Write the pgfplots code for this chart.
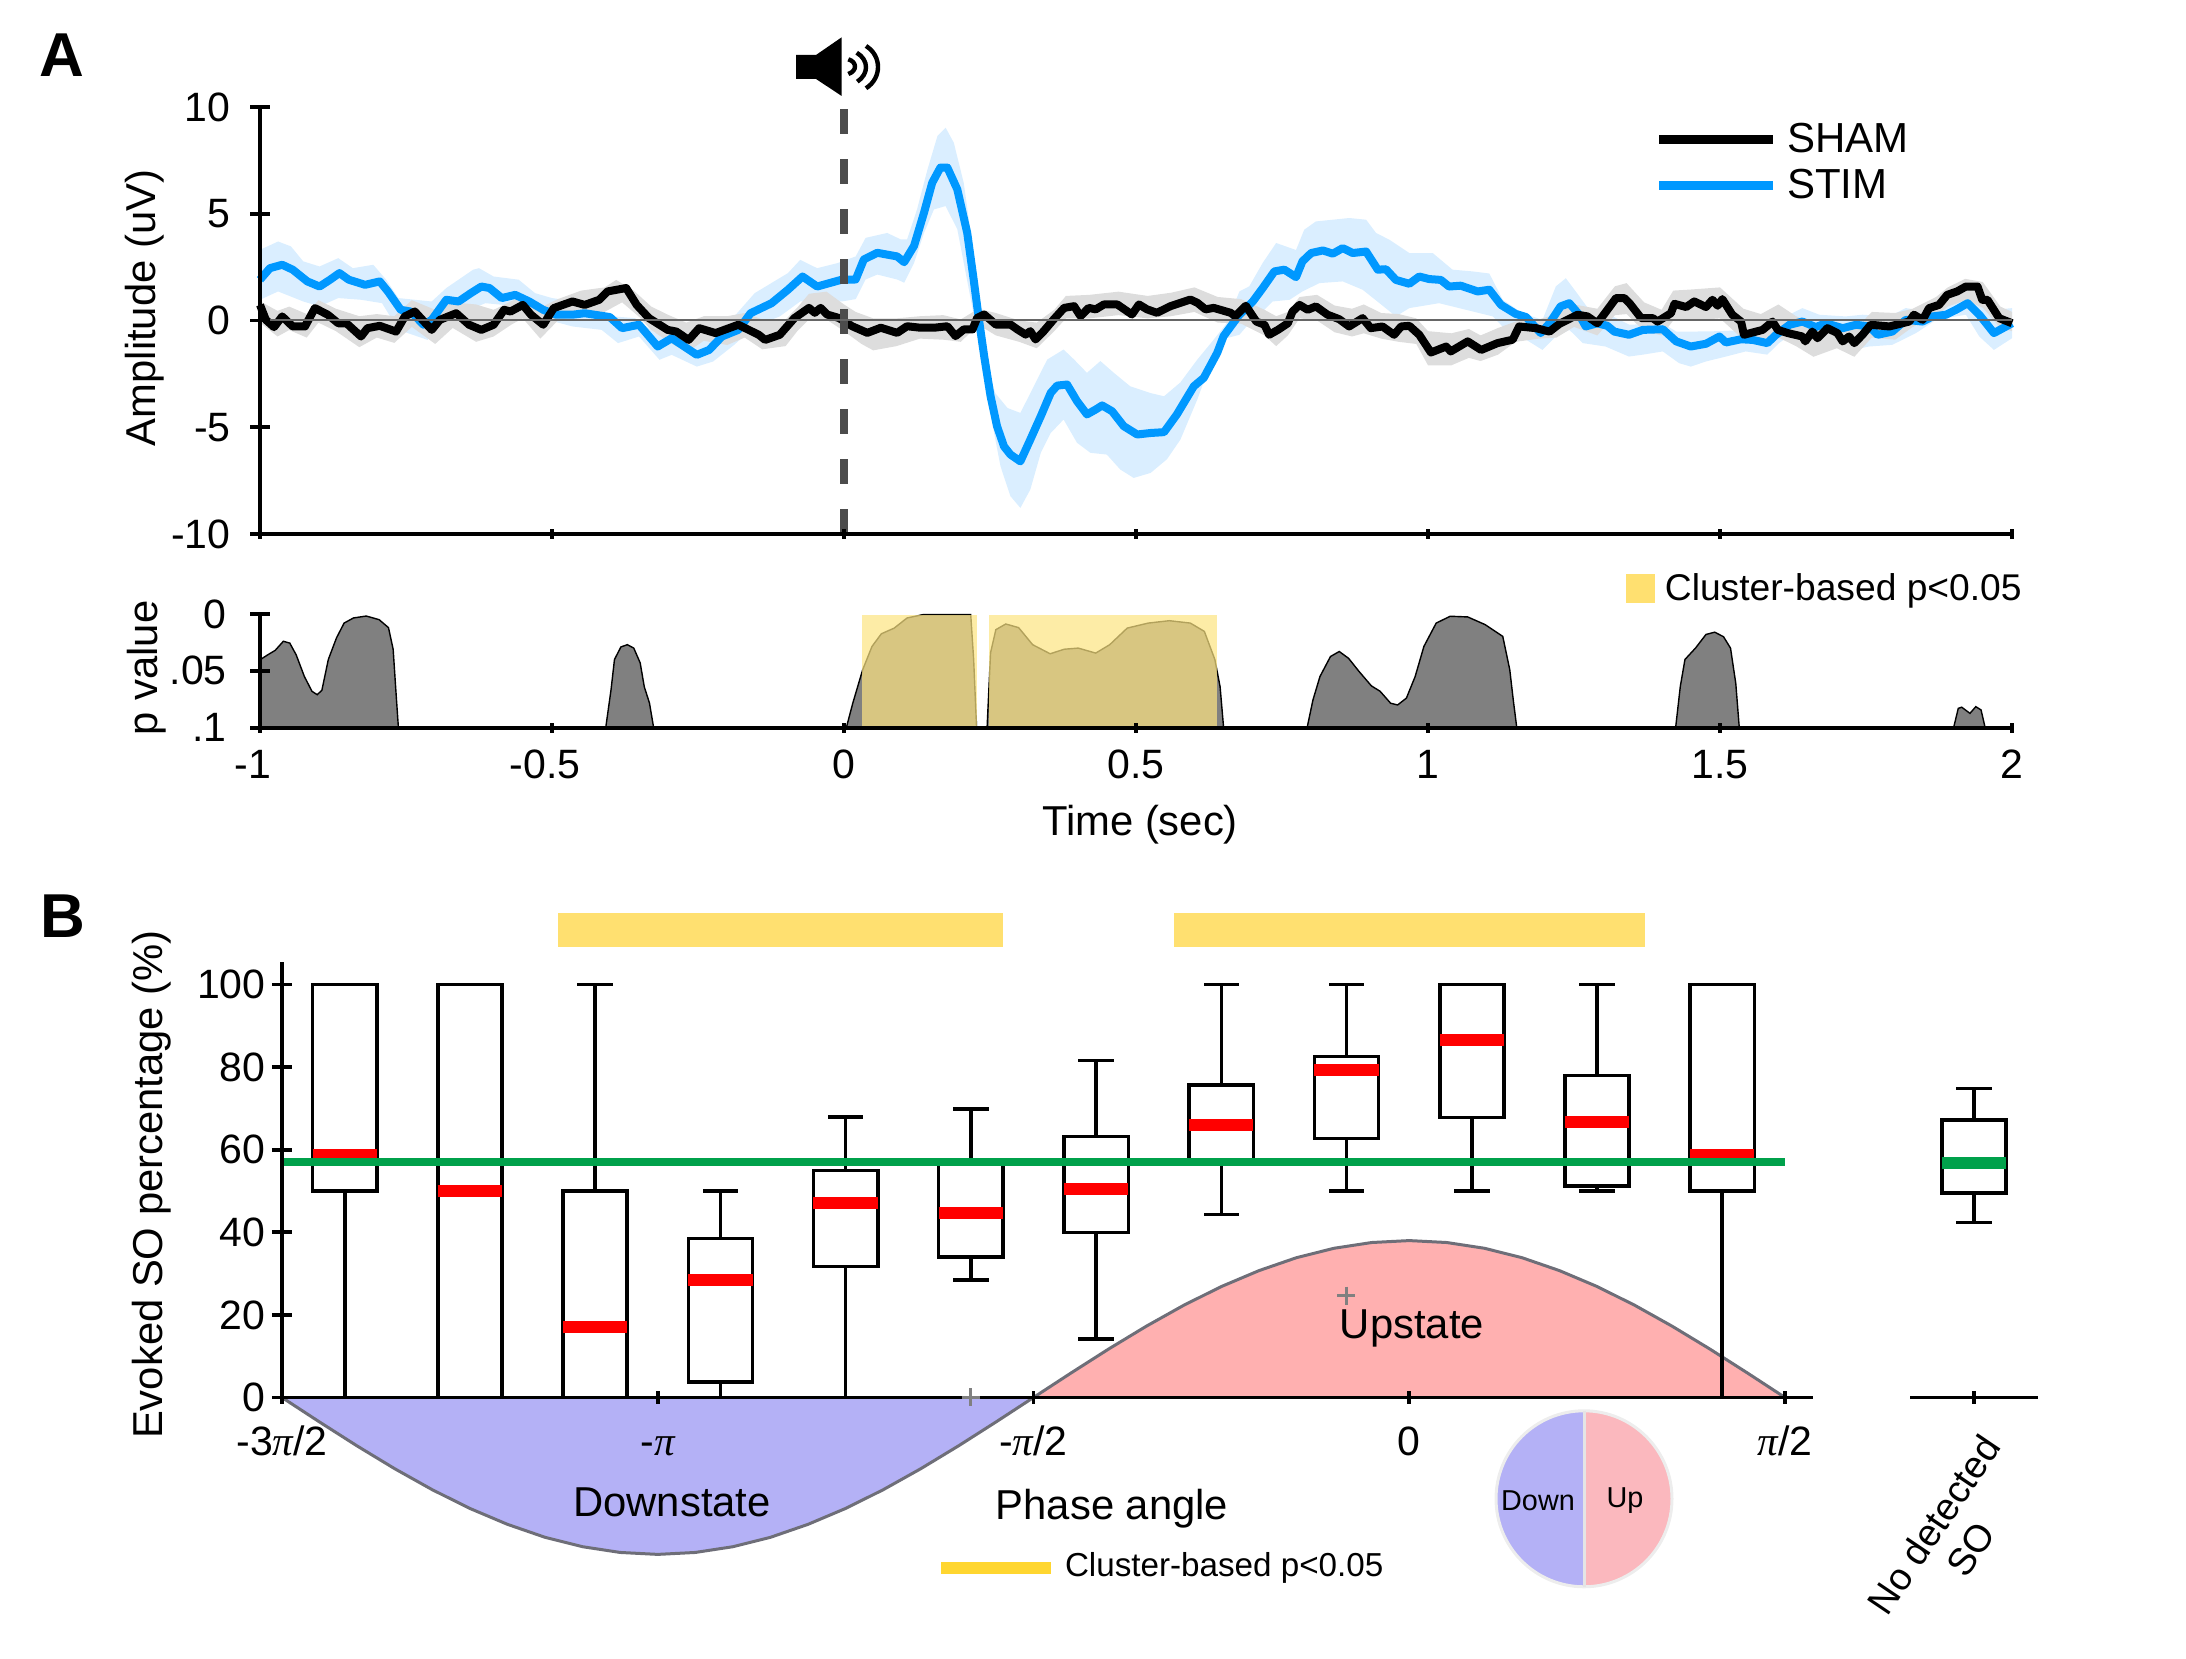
\documentclass[border=0pt]{standalone}
\usepackage{fontspec}
\setmainfont{Liberation Sans}
\newfontfamily\pif{Liberation Serif}
\usepackage{pgfplots}
\pgfplotsset{compat=1.18}
\usepgfplotslibrary{fillbetween}
\definecolor{stimblue}{HTML}{0098FF}
\definecolor{stimband}{HTML}{DAEEFF}
\definecolor{shamband}{HTML}{DDDDDD}
\definecolor{yellowA}{HTML}{FCE482}
\definecolor{yellowB}{HTML}{FFE070}
\definecolor{yellowC}{HTML}{FFD630}
\definecolor{downc}{HTML}{B4B1F6}
\definecolor{upc}{HTML}{FFB0B0}
\definecolor{upp}{HTML}{FBB8BE}
\definecolor{sog}{HTML}{00A14B}
\definecolor{sinel}{HTML}{6E6E78}
\newcommand\PI{{\pif\itshape π}}
\newcommand\tf{\fontsize{20.5}{24}\selectfont}
\newcommand\lf{\fontsize{20.9}{24}\selectfont}
\pgfplotsset{
  base/.style={scale only axis,clip=false,axis on top,tick align=outside,
    every tick/.style={black,line width=1.9pt},
    major tick length=10pt,
    tick label style={font=\tf,inner sep=0pt},
    xtick pos=lower,ytick pos=left},
  noarr/.style={axis line style={-,line width=1.9pt,black}},
  bxl/.style={black,line width=1.8pt,forget plot,line cap=rect,line join=miter},
}
% box: {position}{lower whisker}{Q1}{median}{Q3}{upper whisker}
\newcommand\bx[6]{\bxc{red}{#1}{#2}{#3}{#4}{#5}{#6}}
\newcommand\bxc[7]{%
  \pgfmathsetmacro\xa{#2-.0855}\pgfmathsetmacro\xb{#2+.0855}%
  \pgfmathsetmacro\ca{#2-.0425}\pgfmathsetmacro\cb{#2+.0425}%
  \addplot[bxl] coordinates {(#2,#3)(#2,#4)};
  \addplot[bxl] coordinates {(#2,#6)(#2,#7)};
  \addplot[bxl] coordinates {(\ca,#3)(\cb,#3)};
  \addplot[bxl] coordinates {(\ca,#7)(\cb,#7)};
  \addplot[bxl] coordinates {(\xa,#4)(\xa,#6)(\xb,#6)(\xb,#4)(\xa,#4)};
  \addplot[#1,line width=6pt,forget plot] coordinates {(\xa,#5)(\xb,#5)};
}
\begin{document}
\begin{tikzpicture}
% ---- Panel A
\begin{axis}[base,at={(130pt,562.5pt)},anchor=south west,width=876pt,height=213.5pt,
  xmin=-1,xmax=2,ymin=-10,ymax=10,axis x line=bottom,axis y line=left,noarr,
  xtick={-1,-0.5,0,0.5,1,1.5,2},xticklabels={},
  x tick style={/pgfplots/major tick length=5pt},
  ytick={-10,-5,0,5,10},yticklabels={-10,-5,0,5,10},yticklabel shift=9.5pt,
  reverse legend,legend cell align=left,
  legend style={draw=none,fill=none,at={(0.7958,0.972)},anchor=north west,font=\fontsize{21}{24}\selectfont,row sep=3pt,inner sep=0pt},
  legend image code/.code={\draw[#1,line width=4.5pt] (0,0) -- (57pt,0);\path[draw=none] (0,0) -- (62pt,0);},
]
\addplot[name path=sh,draw=none,forget plot] coordinates {(-1,3.31)(-.969,3.7)(-.947,3.47)(-.926,2.77)(-.898,2.53)(-.866,2.92)(-.841,2.45)(-.806,2.61)(-.784,1.91)(-.763,1.05)(-.735,.97)(-.706,.89)(-.681,1.52)(-.635,2.38)(-.625,2.45)(-.6,2.06)(-.557,1.91)(-.529,1.28)(-.5,1.05)(-.458,.89)(-.429,.5)(-.394,.19)(-.358,.11)(-.323,-.59)(-.295,-.44)(-.252,-1.06)(-.224,-.75)(-.188,.19)(-.153,1.28)(-.096,2.22)(-.075,2.84)(-.046,2.45)(-.011,2.69)(.02,3.0)(.037,3.87)(.074,4.1)(.097,3.8)(.108,3.8)(.125,5.2)(.143,7.08)(.16,8.64)(.174,9.03)(.188,8.33)(.205,6.45)(.217,4.1)(.228,1)(.245,-2.1)(.259,-3.4)(.28,-4.1)(.302,-4.33)(.325,-3.08)(.348,-1.83)(.376,-1.36)(.394,-1.83)(.416,-2.45)(.439,-1.9)(.462,-2.45)(.49,-3.08)(.525,-3.4)(.548,-3.55)(.576,-2.9)(.605,-1.83)(.633,-.9)(.656,-.1)(.677,1.36)(.694,1.6)(.717,2.7)(.74,3.63)(.774,3.3)(.788,4.25)(.808,4.64)(.837,4.72)(.865,4.8)(.894,4.72)(.911,4.1)(.934,3.78)(.968,3.16)(1.008,3.16)(1.042,2.38)(1.076,2.3)(1.105,2.2)(1.128,.97)(1.162,.34)(1.196,.03)(1.219,1.6)(1.236,1.98)(1.253,1.36)(1.276,.5)(1.305,.34)(1.345,-.2)(1.402,-.13)(1.425,-.52)(1.453,-.52)(1.5,-.5)(1.54,-.45)(1.58,-.55)(1.613,.19)(1.641,.58)(1.67,.27)(1.715,.19)(1.744,.27)(1.79,.19)(1.818,.58)(1.858,.42)(1.892,.81)(1.921,1.2)(1.949,1.05)(1.972,.5)(2,.58)};
\addplot[name path=sl,draw=none,forget plot] coordinates {(-1,.97)(-.969,1.36)(-.926,.89)(-.898,.66)(-.866,1.05)(-.827,.97)(-.791,.81)(-.763,-.44)(-.713,-.91)(-.678,.19)(-.635,.58)(-.614,.81)(-.557,.66)(-.507,.03)(-.465,-.28)(-.415,-.44)(-.387,-1.06)(-.351,-.75)(-.316,-1.84)(-.295,-1.61)(-.252,-2.16)(-.224,-1.92)(-.188,-1.14)(-.153,-.28)(-.11,.19)(-.075,.89)(-.032,.89)(-.004,.89)(.02,1)(.037,1.92)(.057,2.15)(.091,1.92)(.103,1.77)(.12,2.7)(.137,4.1)(.154,5.2)(.174,5.36)(.194,4.27)(.217,1)(.228,-.58)(.245,-3.4)(.257,-5.27)(.268,-6.83)(.285,-8.23)(.302,-8.78)(.319,-7.92)(.337,-6.2)(.354,-5.27)(.376,-4.64)(.399,-5.73)(.422,-6.2)(.45,-6.28)(.473,-6.98)(.496,-7.375)(.525,-7.14)(.553,-6.5)(.576,-5.58)(.605,-3.7)(.628,-1.98)(.645,-.9)(.677,-.67)(.694,-.13)(.717,.42)(.734,.89)(.763,.97)(.785,1.36)(.814,1.75)(.854,1.83)(.888,1.44)(.917,.81)(.945,.19)(.968,.58)(1.019,.81)(1.065,.5)(1.111,.19)(1.133,-.44)(1.168,-.9)(1.196,-1.38)(1.219,-.75)(1.242,-.44)(1.265,-1.06)(1.304,-1.22)(1.344,-1.69)(1.368,-1.6)(1.402,-1.45)(1.43,-2.0)(1.45,-2.16)(1.476,-1.92)(1.51,-1.69)(1.544,-1.45)(1.581,-1.6)(1.601,-1.06)(1.63,-.5)(1.664,-.5)(1.71,-1.3)(1.727,-1.38)(1.755,-1.22)(1.795,-1.14)(1.835,-.6)(1.87,.03)(1.921,.27)(1.944,-.75)(1.969,-1.38)(2,-.83)};
\addplot[stimband,forget plot] fill between[of=sh and sl];
\addplot[name path=gh,draw=none,forget plot] coordinates {(-1,.9)(-.97,.45)(-.95,.65)(-.92,.3)(-.9,.95)(-.87,.55)(-.83,.2)(-.8,.3)(-.77,.2)(-.74,.95)(-.7,.5)(-.67,.85)(-.63,.75)(-.6,.5)(-.57,.9)(-.55,1.15)(-.52,.6)(-.49,1.0)(-.45,1.4)(-.41,1.55)(-.39,1.9)(-.36,1.4)(-.33,.65)(-.3,.25)(-.27,-.1)(-.24,.2)(-.2,.2)(-.17,.35)(-.14,.05)(-.1,.05)(-.08,.6)(-.06,1.25)(-.03,1.35)(0,.75)(.02,.4)(.05,.1)(.09,.1)(.13,.2)(.17,.25)(.2,.05)(.23,.55)(.26,.35)(.3,0)(.33,-.1)(.36,.5)(.38,1.15)(.42,1.2)(.47,1.35)(.52,1.15)(.56,1.3)(.6,1.55)(.64,1.1)(.68,1.0)(.72,.5)(.74,.2)(.76,.4)(.78,1.1)(.81,1.2)(.84,.7)(.87,.55)(.89,.75)(.92,.35)(.95,.3)(.98,.1)(1.0,-.5)(1.04,-.6)(1.07,-.4)(1.09,-.7)(1.12,-.35)(1.15,-.05)(1.19,.05)(1.22,.3)(1.25,.75)(1.29,.55)(1.32,1.6)(1.34,1.75)(1.37,.85)(1.4,.5)(1.42,1.4)(1.45,1.45)(1.5,1.55)(1.54,.55)(1.57,.3)(1.6,.75)(1.63,.2)(1.66,-.2)(1.7,-.05)(1.73,-.45)(1.76,.4)(1.8,.35)(1.83,.55)(1.87,1.1)(1.89,1.55)(1.92,1.95)(1.95,1.8)(1.98,.65)(2,.4)};
\addplot[name path=gl,draw=none,forget plot] coordinates {(-1,-.1)(-.97,-.75)(-.95,-.45)(-.92,-.8)(-.9,-.1)(-.87,-.5)(-.83,-1.25)(-.8,-.8)(-.77,-1.05)(-.74,-.3)(-.7,-1.1)(-.67,-.35)(-.63,-1.0)(-.6,-.75)(-.57,-.2)(-.55,.1)(-.52,-.85)(-.49,0)(-.45,.3)(-.41,.4)(-.38,.85)(-.35,.15)(-.33,-.45)(-.3,-1.0)(-.27,-1.5)(-.24,-.95)(-.2,-1.15)(-.17,-.8)(-.14,-1.35)(-.1,-1.2)(-.08,-.5)(-.06,.05)(-.03,.05)(0,-.5)(.03,-1.1)(.05,-1.4)(.09,-1.2)(.13,-.85)(.17,-.9)(.2,-1.0)(.23,-.2)(.26,-.7)(.3,-1.0)(.33,-1.3)(.36,-.5)(.38,.1)(.42,.1)(.47,.25)(.52,.1)(.56,.2)(.6,.4)(.64,-.1)(.68,-.15)(.72,-.7)(.74,-1.2)(.76,-.7)(.78,.1)(.81,0)(.84,-.55)(.87,-.75)(.89,-.6)(.92,-.85)(.95,-1.0)(.98,-1.1)(1.0,-2.1)(1.04,-2.1)(1.07,-1.75)(1.09,-1.9)(1.12,-1.6)(1.15,-1.0)(1.19,-.85)(1.22,-.8)(1.25,-.3)(1.29,-.7)(1.32,.25)(1.34,.3)(1.37,-.5)(1.4,-.7)(1.42,0)(1.45,0)(1.5,.1)(1.54,-.9)(1.57,-1.2)(1.6,-.8)(1.63,-1.2)(1.66,-1.7)(1.7,-1.3)(1.73,-1.7)(1.76,-.8)(1.8,-.9)(1.83,-.3)(1.87,.2)(1.89,.65)(1.92,.95)(1.95,.6)(1.98,-.35)(2,-.5)};
\addplot[shamband,forget plot] fill between[of=gh and gl];
\addplot[stimblue,line width=4pt,line join=round] coordinates {(-1,1.91)(-.983,2.45)(-.962,2.61)(-.944,2.38)(-.919,1.83)(-.898,1.59)(-.88,1.91)(-.864,2.22)(-.848,1.91)(-.82,1.67)(-.795,1.83)(-.781,1.36)(-.759,.5)(-.742,.42)(-.72,-.2)(-.706,.03)(-.681,.97)(-.66,.89)(-.639,1.28)(-.621,1.59)(-.607,1.52)(-.586,1.05)(-.563,1.2)(-.539,.89)(-.515,.5)(-.493,.27)(-.465,.27)(-.444,.34)(-.401,.16)(-.38,-.36)(-.351,-.2)(-.319,-1.22)(-.295,-.83)(-.252,-1.61)(-.231,-1.38)(-.209,-.75)(-.181,-.44)(-.16,.34)(-.124,.81)(-.096,1.44)(-.071,2.06)(-.046,1.59)(-.025,1.75)(-.004,1.91)(.02,1.92)(.034,2.86)(.057,3.17)(.091,3.0)(.103,2.73)(.12,3.5)(.137,5.05)(.151,6.45)(.165,7.16)(.177,7.16)(.194,6.14)(.211,4.1)(.222,1.92)(.231,.05)(.24,-1.67)(.251,-3.55)(.262,-4.95)(.274,-5.9)(.285,-6.28)(.302,-6.6)(.319,-5.58)(.337,-4.48)(.354,-3.39)(.365,-3.05)(.382,-3.0)(.399,-3.78)(.416,-4.4)(.431,-4.17)(.442,-3.98)(.459,-4.25)(.479,-4.95)(.502,-5.34)(.525,-5.27)(.548,-5.23)(.57,-4.4)(.599,-3.08)(.616,-2.69)(.639,-1.52)(.65,-.73)(.677,.27)(.7,.89)(.717,1.52)(.737,2.3)(.754,2.38)(.774,2.03)(.785,2.77)(.8,3.16)(.82,3.28)(.837,3.13)(.854,3.39)(.871,3.16)(.894,3.23)(.914,2.38)(.928,2.4)(.945,1.9)(.968,1.72)(.985,2.06)(1.002,1.94)(1.022,1.9)(1.036,1.59)(1.056,1.63)(1.085,1.36)(1.105,1.44)(1.125,.73)(1.15,.31)(1.168,.16)(1.193,-.59)(1.208,-.13)(1.227,.66)(1.242,.81)(1.259,.27)(1.27,-.28)(1.29,-.13)(1.307,-.25)(1.319,-.52)(1.344,-.67)(1.368,-.44)(1.402,-.41)(1.425,-.98)(1.45,-1.22)(1.476,-1.09)(1.499,-.75)(1.51,-1.03)(1.536,-.88)(1.556,-.91)(1.581,-1.06)(1.596,-.67)(1.619,-.2)(1.641,-.05)(1.664,-.31)(1.681,-.13)(1.71,-.36)(1.733,-.2)(1.755,-.28)(1.77,-.67)(1.795,-.52)(1.818,.03)(1.847,-.05)(1.864,.19)(1.887,.27)(1.904,.5)(1.924,.81)(1.944,.27)(1.969,-.59)(2,-.13)};
\addlegendentry{STIM}
\addplot[black,line width=4pt,line join=round] coordinates {(-1,.73)(-.99,.03)(-.976,-.31)(-.962,.19)(-.944,-.28)(-.923,-.28)(-.906,.58)(-.884,.27)(-.866,-.13)(-.852,-.13)(-.827,-.75)(-.816,-.36)(-.795,-.25)(-.767,-.52)(-.752,.19)(-.735,.42)(-.706,-.44)(-.692,.03)(-.664,.34)(-.642,-.2)(-.621,-.44)(-.6,-.2)(-.582,.5)(-.571,.42)(-.55,.73)(-.536,.27)(-.515,-.2)(-.497,.58)(-.465,.89)(-.444,.73)(-.419,.97)(-.405,1.36)(-.373,1.52)(-.355,.73)(-.334,.11)(-.302,-.44)(-.287,-.52)(-.266,-.91)(-.248,-.36)(-.22,-.59)(-.181,-.2)(-.146,-.67)(-.135,-.91)(-.11,-.67)(-.085,.11)(-.06,.59)(-.05,.36)(-.04,.59)(-.029,.28)(-.009,.12)(.014,-.27)(.04,-.58)(.063,-.34)(.091,-.58)(.108,-.27)(.131,-.34)(.154,-.34)(.177,-.27)(.191,-.73)(.205,-.42)(.22,-.42)(.228,.12)(.24,.28)(.26,-.19)(.285,-.19)(.297,-.42)(.311,-.66)(.319,-.5)(.328,-.89)(.342,-.5)(.359,.05)(.377,.59)(.394,.67)(.405,.2)(.419,.59)(.431,.52)(.445,.75)(.468,.75)(.493,.28)(.505,.75)(.519,.52)(.536,.36)(.559,.67)(.593,.98)(.605,.83)(.619,.52)(.633,.59)(.662,.36)(.67,.2)(.688,.69)(.706,-.05)(.72,-.2)(.728,-.67)(.743,-.44)(.76,-.13)(.768,.42)(.78,.73)(.794,.5)(.808,.66)(.828,.27)(.848,.06)(.865,-.28)(.888,.11)(.902,-.36)(.922,-.28)(.942,-.67)(.954,-.28)(.968,-.25)(.985,-.67)(1.005,-1.5)(1.031,-1.22)(1.039,-1.45)(1.068,-.98)(1.091,-1.38)(1.119,-1.06)(1.145,-.9)(1.156,-.28)(1.185,-.36)(1.208,-.52)(1.225,-.16)(1.256,.27)(1.273,.19)(1.29,-.13)(1.305,.42)(1.322,1.05)(1.336,1.05)(1.345,.81)(1.365,.11)(1.385,.11)(1.393,-.05)(1.416,.34)(1.422,.78)(1.442,.63)(1.456,.89)(1.476,.63)(1.487,.97)(1.496,.69)(1.504,1.0)(1.521,.27)(1.536,-.05)(1.541,-.67)(1.573,-.44)(1.59,-.05)(1.599,-.44)(1.616,-.59)(1.641,-.75)(1.646,-.98)(1.658,-.52)(1.667,-.83)(1.684,-.36)(1.701,-.59)(1.71,-.98)(1.721,-.75)(1.73,-1.06)(1.744,-.67)(1.758,-.2)(1.79,-.28)(1.824,-.05)(1.832,.27)(1.847,.03)(1.858,.58)(1.875,.73)(1.889,1.2)(1.906,1.36)(1.921,1.59)(1.941,1.59)(1.949,.97)(1.958,.97)(1.978,.11)(2,-.13)};
\addlegendentry{SHAM}
\addplot[forget plot,color=black!70,line width=4.1pt,dash pattern=on 12.5pt off 12.5pt] coordinates {(0,9.9)(0,-10)};
\addplot[forget plot,color=black!60,line width=1pt] coordinates {(-1,0)(2,0)};
\end{axis}
% ---- p value
\begin{axis}[base,at={(130pt,465.65pt)},anchor=south west,width=876pt,height=56.85pt,
  xmin=-1,xmax=2,ymin=0,ymax=.1,y dir=reverse,axis x line=bottom,axis y line=left,noarr,
  xtick={-1,-0.5,0,0.5,1,1.5,2},
  xticklabels={\llap{-}1,\llap{-}0.5,\raisebox{2.5pt}{0},0.5,1,1.5,\raisebox{2.5pt}{2}},
  x tick style={/pgfplots/major tick length=5pt},xticklabel shift=6pt,
  ytick={0,.05,.1},yticklabels={0,.05,.1},yticklabel shift=11.5pt,
]
\addplot[fill=black!50,draw=black,line width=.7pt] coordinates {(-1,.1)(-1,.0403)(-.987,.036)(-.974,.032)(-.96,.024)(-.949,.0256)(-.938,.036)(-.924,.055)(-.911,.068)(-.902,.071)(-.894,.067)(-.883,.04)(-.869,.021)(-.856,.008)(-.84,.0035)(-.818,.0018)(-.796,.005)(-.78,.012)(-.772,.031)(-.767,.07)(-.763,.1)};
\addplot[fill=black!50,draw=black,line width=.7pt] coordinates {(-.408,.1)(-.399,.067)(-.393,.04)(-.382,.029)(-.371,.027)(-.36,.03)(-.349,.043)(-.342,.064)(-.333,.0785)(-.326,.1)};
\addplot[fill=black!50,draw=black,line width=.7pt] coordinates {(.004,.1)(.015,.0785)(.032,.049)(.048,.0285)(.064,.0174)(.086,.0124)(.108,.0035)(.135,.0006)(.217,.0006)(.222,.04)(.227,.1)};
\addplot[fill=black!50,draw=black,line width=.7pt] coordinates {(.245,.1)(.251,.034)(.26,.0138)(.277,.0088)(.299,.012)(.323,.027)(.353,.035)(.377,.031)(.401,.03)(.431,.0344)(.455,.027)(.485,.0124)(.521,.008)(.557,.0059)(.593,.008)(.617,.0153)(.635,.04)(.644,.064)(.65,.1)};
\addplot[fill=black!50,draw=black,line width=.7pt] coordinates {(.793,.1)(.803,.0756)(.815,.055)(.833,.0374)(.848,.033)(.864,.039)(.882,.0506)(.903,.0632)(.918,.068)(.936,.0785)(.948,.08)(.963,.074)(.978,.055)(.993,.0285)(1.014,.008)(1.038,.002)(1.068,.0026)(1.098,.0094)(1.128,.0197)(1.14,.049)(1.146,.0756)(1.152,.1)};
\addplot[fill=black!50,draw=black,line width=.7pt] coordinates {(1.424,.1)(1.432,.0638)(1.44,.04)(1.458,.03)(1.476,.018)(1.491,.016)(1.506,.02)(1.518,.03)(1.527,.061)(1.533,.1)};
\addplot[fill=black!50,draw=black,line width=.7pt] coordinates {(1.9,.1)(1.908,.083)(1.914,.082)(1.928,.0874)(1.938,.0815)(1.947,.0844)(1.954,.1)};
\addplot[fill=yellowA,draw=none,opacity=.71] coordinates {(.0316,.1)(.0316,.0006)(.227,.0006)(.227,.1)};
\addplot[fill=yellowA,draw=none,opacity=.71] coordinates {(.2484,.1)(.2484,.0006)(.638,.0006)(.638,.1)};
\end{axis}
% ---- Panel B
\begin{axis}[base,at={(141pt,130.75pt)},anchor=south west,width=765.3pt,height=217.5pt,
  xmin=-3,xmax=1.0735,ymin=0,ymax=105.35,axis x line=bottom,axis y line=left,noarr,
  xtick={-3,-2,-1,0,1},xticklabels={-3\PI/2,\vphantom{/}-\PI,-\PI/2,\vphantom{/}0,\PI/2},
  x tick style={/pgfplots/major tick length=6.5pt},xticklabel shift=9pt,
  ytick={0,20,40,60,80,100},yticklabels={0,20,40,60,80,100},yticklabel shift=3pt,
]
\addplot[fill=downc,draw=sinel,line width=1.5pt,forget plot] coordinates {(-3,0)(-2.9,-5.94)(-2.8,-11.74)(-2.7,-17.25)(-2.6,-22.34)(-2.5,-26.87)(-2.4,-30.72)(-2.3,-33.86)(-2.2,-36.14)(-2.1,-37.53)(-2,-38)(-1.9,-37.53)(-1.8,-36.14)(-1.7,-33.86)(-1.6,-30.72)(-1.5,-26.87)(-1.4,-22.34)(-1.3,-17.25)(-1.2,-11.74)(-1.1,-5.94)(-1,0)};
\addplot[fill=upc,draw=sinel,line width=1.5pt,forget plot] coordinates {(-1,0)(-.9,5.94)(-.8,11.74)(-.7,17.25)(-.6,22.34)(-.5,26.87)(-.4,30.72)(-.3,33.86)(-.2,36.14)(-.1,37.53)(0,38)(.1,37.53)(.2,36.14)(.3,33.86)(.4,30.72)(.5,26.87)(.6,22.34)(.7,17.25)(.8,11.74)(.9,5.94)(1,0)};
\addplot[fill=yellowB,draw=none,forget plot] coordinates {(-2.265,109.2)(-2.265,117.3)(-1.081,117.3)(-1.081,109.2)};
\addplot[fill=yellowB,draw=none,forget plot] coordinates {(-.6255,109.2)(-.6255,117.3)(.628,117.3)(.628,109.2)};
\bx{-2.833}{0}{50}{58.7}{100}{100}
\bx{-2.5}{0}{0}{50}{100}{100}
\bx{-2.167}{0}{0}{17}{50}{100}
\bx{-1.833}{0}{3.7}{28.4}{38.5}{50}
\bx{-1.5}{0}{31.7}{47.1}{55}{67.9}
\bx{-1.167}{28.5}{34}{44.6}{57}{69.8}
\bx{-.833}{14.1}{40}{50.6}{63.2}{81.6}
\bx{-.5}{44.3}{57}{65.9}{75.7}{100}
\bx{-.167}{50}{62.7}{79.2}{82.6}{100}
\bx{.167}{50}{67.8}{86.5}{100}{100}
\bx{.5}{50}{51.2}{66.7}{78}{100}
\bx{.833}{0}{50}{58.7}{100}{100}
\addplot[sog,line width=4.2pt,forget plot] coordinates {(-3,57)(1,57)};
\addplot[only marks,mark=+,mark size=4.5pt,color=black!50,line width=1.6pt,forget plot] coordinates {(-1.167,0)(-.167,24.7)};
\end{axis}
\begin{axis}[base,at={(955pt,130.75pt)},anchor=south west,width=64pt,height=217.5pt,
  xmin=0,xmax=.3407,ymin=0,ymax=105.35,axis x line=bottom,axis y line=none,noarr,
  xtick={.1703},xticklabels={},x tick style={/pgfplots/major tick length=6.5pt},
]
\bxc{sog}{.1703}{42.4}{49.5}{56.9}{67.2}{74.8}
\end{axis}
% ---- annotations (pixel coordinates of the reference)
\begin{scope}[x=.5pt,y=-.5pt,yshift=829.5pt]
\useasboundingbox (0,0) rectangle (2186,1659);
\node[font=\bfseries\fontsize{31}{36}\selectfont,inner sep=0] at (62,55) {A};
\node[font=\bfseries\fontsize{31}{36}\selectfont,inner sep=0] at (63,916) {B};
\node[font=\lf,rotate=90,anchor=base,inner sep=0] at (155,308) {Amplitude (uV)};
\node[font=\lf,rotate=90,anchor=base,inner sep=0] at (157,668) {p value};
\node[font=\lf,rotate=90,anchor=base,inner sep=0] at (162,1184.5) {Evoked SO percentage (\%)};
\node[font=\lf,anchor=base,inner sep=0] at (1140,836) {Time (sec)};
\fill[yellowB] (1626,574) rectangle (1655,603);
\node[font=\fontsize{18.6}{22}\selectfont,anchor=base west,inner sep=0] at (1664.5,600.7) {Cluster-based p<0.05};
\node[font=\lf,anchor=base,inner sep=0] at (1112,1520) {Phase angle};
\node[font=\lf,anchor=base,inner sep=0] at (672,1517) {Downstate};
\node[font=\lf,anchor=base,inner sep=0] at (1412,1338.7) {Upstate};
\draw[yellowC,line width=6.3pt] (941,1568) -- (1051,1568);
\node[font=\fontsize{16.6}{20}\selectfont,anchor=base west,inner sep=0] at (1064.6,1577) {Cluster-based p<0.05};
% pie
\fill[downc] (1584,1410.8) arc[start angle=270,end angle=90,radius=88];
\fill[upp] (1584,1410.8) arc[start angle=-90,end angle=90,radius=88];
\draw[black!7,line width=1.5pt] (1584,1498.8) circle[radius=88];
\draw[black!10,line width=1.5pt] (1584,1410.8) -- (1584,1586.8);
\node[font=\fontsize{14.4}{17}\selectfont,inner sep=0] at (1538,1501) {Down};
\node[font=\fontsize{14.4}{17}\selectfont,inner sep=0] at (1625,1501) {Up};
% rotated label
\node[font=\fontsize{19}{22}\selectfont,rotate=56,align=center,inner sep=0] at (1952,1537) {No detected\\SO};
% speaker
\fill[black] (796,55) -- (816,55) -- (841.7,37.3) -- (841.7,96) -- (816,79) -- (796,79) -- cycle;
\draw[black,line width=2.2pt] (848.3,59.3) .. controls (857.2,62) and (857.2,71) .. (848.3,74);
\draw[black,line width=2.2pt] (856.7,52.7) .. controls (869,60) and (869,74) .. (857.3,81.7);
\draw[black,line width=2.2pt] (866,46) .. controls (882,56) and (882,78) .. (866,88.3);
\end{scope}
\end{tikzpicture}
\end{document}
